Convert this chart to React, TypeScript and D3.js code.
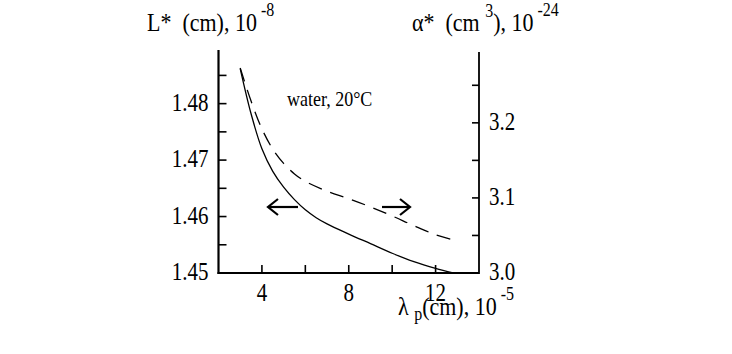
import React from "react";
import * as d3 from "d3";

const lambdaL = [3.0, 3.5, 4.0, 4.5, 5.0, 5.5, 6.0, 6.5, 7.0, 8.0, 9.0, 10, 11, 12, 12.8];
const Lvals = [1.4862, 1.4782, 1.4720, 1.4680, 1.4652, 1.4630, 1.4612, 1.4598, 1.4587, 1.4569, 1.4552, 1.4535, 1.4520, 1.4508, 1.4500];
const lambdaA = [3.0, 3.5, 4.0, 4.5, 5.0, 5.5, 6.0, 7.0, 8.0, 9.0, 10, 11, 12, 12.7];
const Avals = [3.273, 3.229, 3.192, 3.165, 3.146, 3.132, 3.122, 3.109, 3.099, 3.088, 3.076, 3.063, 3.051, 3.045];
const xTicks = [4, 6, 8, 10, 12];
const xTickLabels = [4, 8, 12];
const leftTicks = [1.455, 1.46, 1.465, 1.47, 1.475, 1.48, 1.485];
const leftTickLabels = [1.45, 1.46, 1.47, 1.48];
const rightTicks = [3.05, 3.1, 3.15, 3.2, 3.25];
const rightTickLabels = [3.0, 3.1, 3.2];

const FONT = '"Liberation Serif", "Times New Roman", serif';
const SY = 1.15;

function T(props: { x: number; y: number; size: number; anchor?: string; children: React.ReactNode }) {
  return (
    <text
      transform={`translate(${props.x},${props.y}) scale(1,${SY})`}
      fontSize={props.size}
      textAnchor={props.anchor || "start"}
      style={{ fontFamily: FONT, whiteSpace: "pre" }}
      fill="#000"
    >
      {props.children}
    </text>
  );
}

export default function App() {
  const x0 = 218.5, x1 = 479, yb = 273, yt = 50;
  const x = d3.scaleLinear().domain([2, 14]).range([x0, x1]);
  const yL = d3.scaleLinear().domain([1.45, 1.4895]).range([yb, yt]);
  const yR = d3.scaleLinear().domain([3.0, 3.297]).range([yb, yt]);
  const lineL = d3.line<number>().x((_, i) => x(lambdaL[i])).y((d) => yL(d)).curve(d3.curveCatmullRom.alpha(0.5));
  const lineA = d3.line<number>().x((_, i) => x(lambdaA[i])).y((d) => yR(d)).curve(d3.curveCatmullRom.alpha(0.5));
  const fs = 21;
  const sup = 16;
  return (
    <svg width={732} height={354} style={{ position: "absolute", left: 0, top: 0, background: "#fff" }}>
      <rect width={732} height={354} fill="#fff" />
      {/* axes */}
      <line x1={x0} y1={yt} x2={x0} y2={yb + 1} stroke="#000" strokeWidth={2.2} />
      <line x1={x0 - 1} y1={yb} x2={x1} y2={yb} stroke="#000" strokeWidth={2.2} />
      <line x1={x1} y1={yt + 2} x2={x1} y2={yb + 1} stroke="#000" strokeWidth={1.8} />
      {leftTicks.map((t) => (
        <line key={"lt" + t} x1={x0} x2={x0 + 8} y1={yL(t)} y2={yL(t)} stroke="#000" strokeWidth={1.6} />
      ))}
      {rightTicks.map((t) => (
        <line key={"rt" + t} x1={x1} x2={x1 - 7} y1={yR(t)} y2={yR(t)} stroke="#000" strokeWidth={1.6} />
      ))}
      {xTicks.map((t) => (
        <line key={"xt" + t} x1={x(t)} x2={x(t)} y1={yb} y2={yb - 8} stroke="#000" strokeWidth={1.6} />
      ))}
      {leftTickLabels.map((t) => (
        <T key={"ll" + t} x={x0 - 10} y={yL(t) + 7} size={fs} anchor="end">{t.toFixed(2)}</T>
      ))}
      {rightTickLabels.map((t) => (
        <T key={"rl" + t} x={x1 + 10} y={yR(t) + 7} size={fs}>{t.toFixed(1)}</T>
      ))}
      {xTickLabels.map((t) => (
        <T key={"xl" + t} x={x(t)} y={yb + 28} size={fs} anchor="middle">{String(t)}</T>
      ))}
      {/* curves */}
      <path d={lineL(Lvals) || ""} fill="none" stroke="#000" strokeWidth={1.3} />
      <path d={lineA(Avals) || ""} fill="none" stroke="#000" strokeWidth={1.3} strokeDasharray="14,9" />
      {/* arrows */}
      <g stroke="#000" strokeWidth={2.2} fill="none">
        <line x1={298} y1={207} x2={269} y2={207} />
        <polyline points="278,199 268,207 278,215" />
        <line x1={382} y1={207} x2={409} y2={207} />
        <polyline points="400,199 410,207 400,215" />
      </g>
      {/* annotations */}
      <T x={287} y={106} size={18}>water, 20°C</T>
      <T x={147} y={31} size={22}>
        {"L*  (cm), 10"}<tspan dy={-13} fontSize={sup}>{" -8"}</tspan>
      </T>
      <T x={412} y={31} size={22}>
        {"α*  (cm "}<tspan dy={-12} fontSize={sup}>3</tspan><tspan dy={12}>), 10</tspan><tspan dy={-13} fontSize={sup}>{" -24"}</tspan>
      </T>
      <T x={398} y={315} size={22}>
        {"λ "}<tspan dy={4} fontSize={sup}>p</tspan><tspan dy={-4}>(cm), 10</tspan><tspan dy={-13} fontSize={sup}>{" -5"}</tspan>
      </T>
    </svg>
  );
}
